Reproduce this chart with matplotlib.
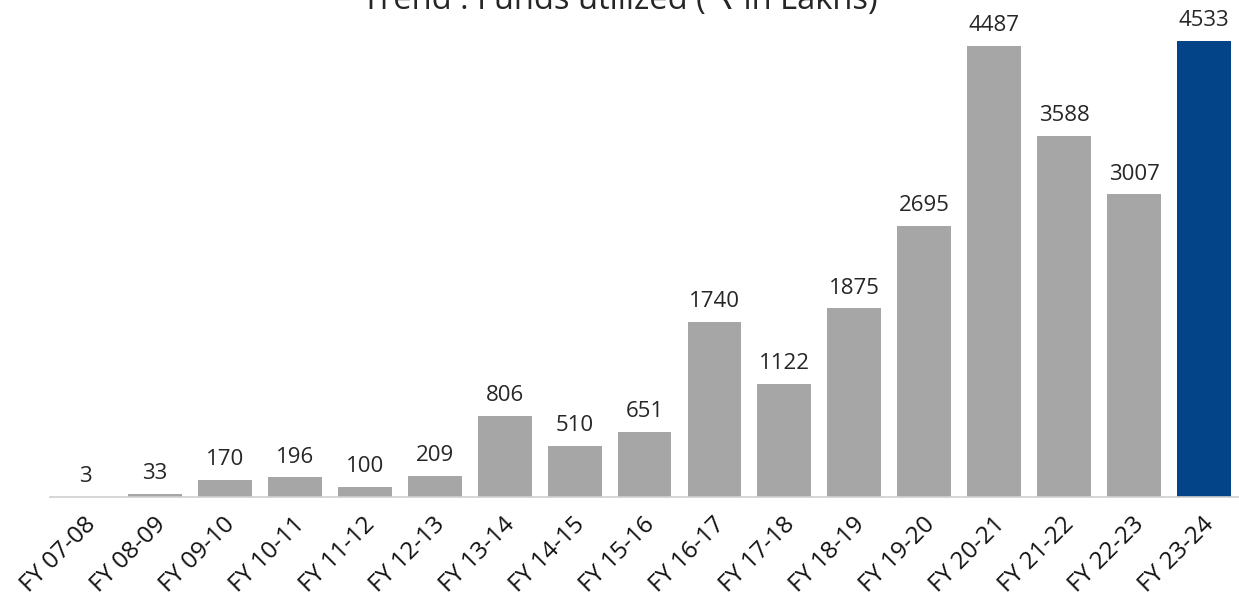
import matplotlib.pyplot as plt
from matplotlib.transforms import offset_copy

years = ["FY 07-08", "FY 08-09", "FY 09-10", "FY 10-11", "FY 11-12", "FY 12-13",
         "FY 13-14", "FY 14-15", "FY 15-16", "FY 16-17", "FY 17-18", "FY 18-19",
         "FY 19-20", "FY 20-21", "FY 21-22", "FY 22-23", "FY 23-24"]
funds = [3, 33, 170, 196, 100, 209, 806, 510, 651, 1740, 1122, 1875,
         2695, 4487, 3588, 3007, 4533]

plt.rcParams['font.family'] = ['Open Sans', 'DejaVu Sans']

fig = plt.figure(figsize=(12.39, 6.10), dpi=100)
ax = fig.add_axes([0.0404, 0.185, 0.9596, 0.748])

colors = ['#A6A6A6'] * (len(funds) - 1) + ['#034488']
x = list(range(len(funds)))
ax.bar(x, funds, width=0.77, color=colors)

for xi, v in zip(x, funds):
    ax.annotate(f"{v}", (xi, v), xytext=(0, 7), textcoords='offset points',
                ha='center', va='bottom', fontsize=16, color='#262626',
                annotation_clip=False)

ax.set_xlim(-0.5, len(funds) - 0.5)
ax.set_ylim(0, 4533)
ax.set_yticks([])
ax.set_xticks(x)
ax.set_xticklabels([])
ax.tick_params(axis='x', length=0)

# rotated category labels, ending just below each tick
lab_tr = offset_copy(ax.get_xaxis_transform(), fig=fig, x=5, y=-17, units='points')
for xi, name in zip(x, years):
    ax.text(xi, 0, name, transform=lab_tr, rotation=45, rotation_mode='anchor',
            ha='right', va='center', fontsize=17.5, color='#111111', clip_on=False)

for s in ['top', 'right', 'left']:
    ax.spines[s].set_visible(False)
ax.spines['bottom'].set_color('#D0D0D0')
ax.spines['bottom'].set_linewidth(1.2)

fig.text(0.5, 1 - 9 / 610, "Trend : Funds utilized ( \u20b9 in Lakhs)",
         ha='center', va='baseline', fontsize=23.5, color='#262626')

fig.savefig("out.png", dpi=100)
